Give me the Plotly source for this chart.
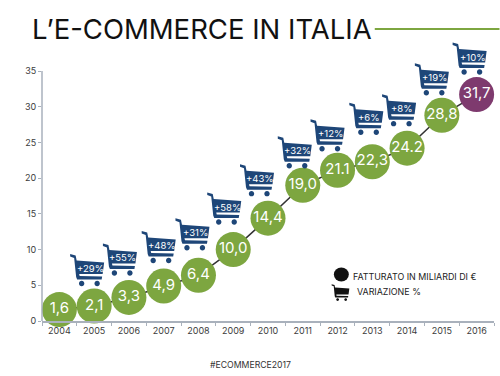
import plotly.graph_objects as go

years = ["2004","2005","2006","2007","2008","2009","2010","2011","2012","2013","2014","2015","2016"]
fatturato = [1.6,2.1,3.3,4.9,6.4,10.0,14.4,19.0,21.1,22.3,24.2,28.8,31.7]
labels = ["1,6","2,1","3,3","4,9","6,4","10,0","14,4","19,0","21.1","22,3","24.2","28,8","31,7"]
variazione = [None,"+29%","+55%","+48%","+31%","+58%","+43%","+32%","+12%","+6%","+8%","+19%","+10%"]
y_ticks = [0,5,10,15,20,25,30,35]

cart_dx = [0,-4,-6,-2,-3,-6,-8,-5,-7,-3,-5,-7,-4]
cart_dy = [0,38,40,41,43,43,40,35,37,45,40,38,38]

GREEN, PURPLE, NAVY = "#7DA640", "#7E3A6E", "#1E4678"
AXIS, TXT = "#A9B1BC", "#3C3C3C"
FONT = "Inter"
# plot area reaches to y=42 (axis line itself stops at 35) so the top carts are not clipped
W, H, L, R, T, B = 500, 376, 41.5, 5.5, 21, 55

def px(x): return (x - L) / (W - L - R)
def py(y): return 1 - (y - T) / (H - T - B)

def circ(cx, cy, r):
    k = 0.5523 * r
    return (f"M{cx-r:.2f},{cy:.2f} C{cx-r:.2f},{cy+k:.2f} {cx-k:.2f},{cy+r:.2f} {cx:.2f},{cy+r:.2f} "
            f"C{cx+k:.2f},{cy+r:.2f} {cx+r:.2f},{cy+k:.2f} {cx+r:.2f},{cy:.2f} "
            f"C{cx+r:.2f},{cy-k:.2f} {cx+k:.2f},{cy-r:.2f} {cx:.2f},{cy-r:.2f} "
            f"C{cx-k:.2f},{cy-r:.2f} {cx-r:.2f},{cy-k:.2f} {cx-r:.2f},{cy:.2f} Z")

def cart_path(dx, dy, s=1.0):
    pts = [(-20,14),(-14.5,12.5),(-13.5,7.5),(14,5.5),(12.5,-6),(-11,-6),(-10.5,-8),(12,-8.5),(11.5,-11.5),(-13,-11.5),(-14,-9),(-16,10),(-20,11.5)]
    d = "M" + " L".join(f"{dx+s*a:.1f},{dy+s*b:.1f}" for a, b in pts) + " Z "
    d += circ(dx - 8.5*s, dy - 15.5*s, 2.7*s) + " " + circ(dx + 7*s, dy - 15.5*s, 2.7*s)
    return d

fig = go.Figure()
fig.add_trace(go.Scatter(
    x=years, y=fatturato, mode="lines", line=dict(color="#333333", width=1.5),
    hoverinfo="skip", cliponaxis=False))
fig.add_trace(go.Scatter(
    x=years, y=fatturato, mode="markers+text", text=labels, textposition="middle center",
    textfont=dict(family=FONT, size=15, color="white"),
    marker=dict(size=35, color=[GREEN]*12 + [PURPLE], line=dict(width=0)),
    cliponaxis=False))

shapes, annotations = [], []
for i, (v, lab, dx, dy) in enumerate(zip(fatturato, variazione, cart_dx, cart_dy)):
    if lab is None:
        continue
    shapes.append(dict(type="path", xref="x", yref="y", xsizemode="pixel", ysizemode="pixel",
                       xanchor=i, yanchor=v, path=cart_path(dx, dy), fillcolor=NAVY,
                       line=dict(width=0), layer="above"))
    annotations.append(dict(x=i, y=v, xref="x", yref="y", text=lab, showarrow=False,
                            xshift=dx, yshift=dy - 0.5, font=dict(family=FONT, size=9.5, color="white")))

# y axis line stops at the top tick
shapes.append(dict(type="line", xref="paper", yref="y", x0=0, x1=0, y0=0, y1=y_ticks[-1],
                   line=dict(color=AXIS, width=1.5)))
# title rule
shapes.append(dict(type="line", xref="paper", yref="paper", x0=px(375), x1=px(500), y0=py(29), y1=py(29),
                   line=dict(color=GREEN, width=2)))
# legend marks
shapes.append(dict(type="circle", xref="paper", yref="paper", x0=px(334), x1=px(349), y0=py(267.5), y1=py(281.5),
                   fillcolor="#111111", line=dict(width=0)))
shapes.append(dict(type="path", xref="x", yref="y", xsizemode="pixel", ysizemode="pixel",
                   xanchor=8, yanchor=0, path=cart_path(4.5, 321-291.5, 0.52),
                   fillcolor="#111111", line=dict(width=0)))

def text(xp, yp, s, size, color, anchor="left", family=FONT):
    annotations.append(dict(x=px(xp), y=py(yp), xref="paper", yref="paper", text=s, showarrow=False,
                            xanchor=anchor, yanchor="middle", font=dict(family=family, size=size, color=color)))

text(29, 29, "L’E-COMMERCE IN ITALIA", 27.5, "#111111")
text(351, 276.5, "FATTURATO IN MILIARDI DI €", 8.9, "#222222")
text(355, 291.5, "VARIAZIONE %", 8.9, "#222222")
text(250, 365, "#ECOMMERCE2017", 8.7, "#333333", "center")

fig.update_layout(
    width=W, height=H, margin=dict(l=L, r=R, t=T, b=B), autosize=False,
    showlegend=False, plot_bgcolor="white", paper_bgcolor="white",
    shapes=shapes, annotations=annotations,
    xaxis=dict(type="category", range=[-0.5, 12.5], tickson="boundaries", ticks="outside", ticklen=3,
               tickcolor=AXIS, showgrid=False, showline=True, linecolor=AXIS, linewidth=1.5, zeroline=False,
               tickfont=dict(family=FONT, size=9, color=TXT), fixedrange=True),
    yaxis=dict(range=[0, 42], tickvals=y_ticks, ticks="outside", ticklen=3, tickcolor=AXIS,
               showgrid=False, showline=False, zeroline=False,
               tickfont=dict(family=FONT, size=9, color=TXT), fixedrange=True),
)
fig.write_html("out.html", config=dict(displayModeBar=False), post_script="document.body.style.margin='0';")
